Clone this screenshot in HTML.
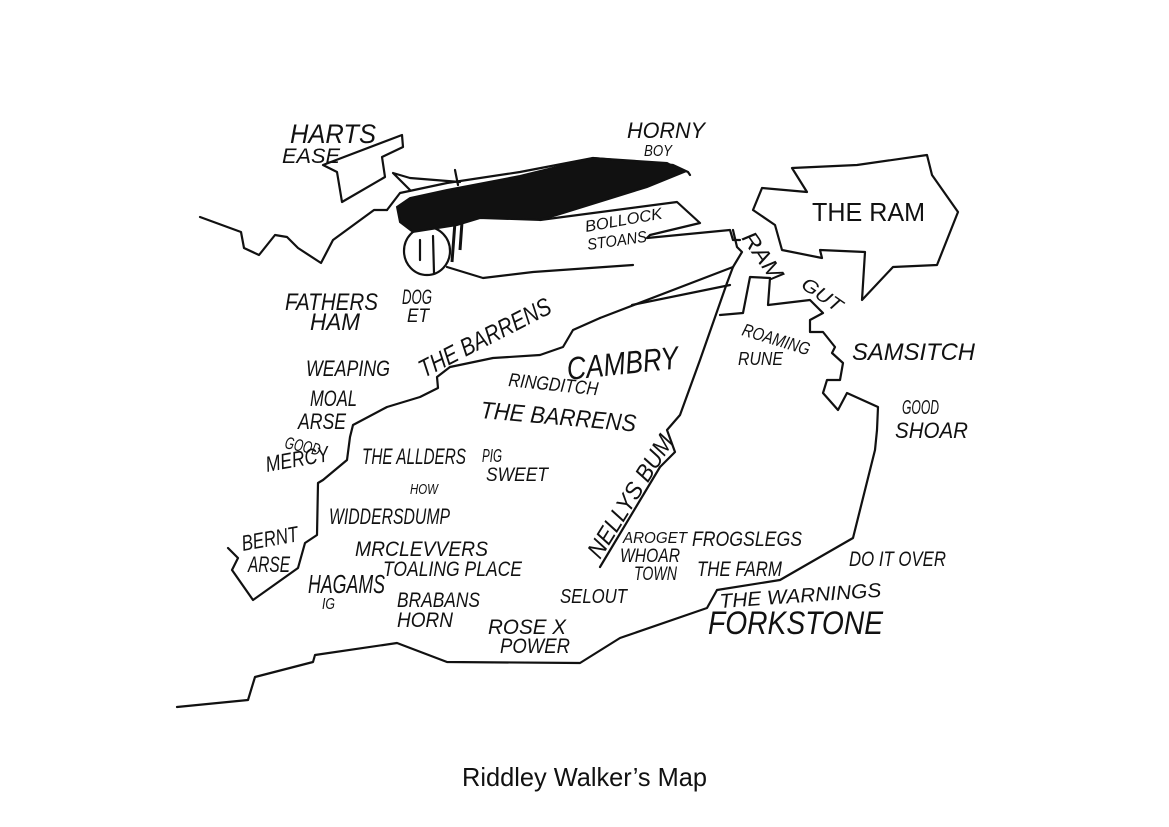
<!DOCTYPE html>
<html><head><meta charset="utf-8"><style>
html,body{margin:0;padding:0;background:#fff;}
svg{display:block}
text{font-family:"Liberation Sans",sans-serif;font-style:italic;fill:#111;}
.c{font-style:normal;}
</style></head><body>
<svg width="1169" height="827" viewBox="0 0 1169 827" xmlns="http://www.w3.org/2000/svg">
<g fill="none" stroke="#111" stroke-width="2.2" stroke-linejoin="round" stroke-linecap="round">
<path d="M323,165 L402,135 L403,147 L382,157 L385,177 L342,202 L337,172 Z"/>
<path d="M200,217 L241,232 L244,248 L259,255 L275,235 L287,237 L298,248 L321,263 L333,240 L374,210 L387,210"/>
<path d="M387,210 L400,193 L447,183 L520,172 L593,158 L673,165 L688,172 L690,175"/>
<path d="M393,173 L410,178 L460,182 M393,173 L410,190 M455,170 L458,185"/>
<ellipse cx="427" cy="251" rx="23" ry="24"/>
<path d="M420,240 L420,260 M433,236 L434,273"/>
<path d="M447,267 L483,278 L533,272 L633,265"/>
<path d="M540,220 L677,202 L700,223 L650,235 L647,238 L730,230 L733,240 L740,240"/>
<path d="M733,230 L737,247 L742,252 L733,267 L727,283"/>
<path d="M733,267 L600,318"/>
<path d="M730,285 L632,305"/>
<path d="M600,318 L573,330 L563,347 L540,355 L493,358 L450,367 L437,377 L438,388 L420,397 L387,407 L353,425 L350,437 L347,460 L323,480 L318,483 L317,535 L305,543 L298,568 L253,600 L232,570 L238,558 L228,548"/>
<path d="M727,283 L700,360 L680,415 L667,430 L675,452 L660,467 L600,567"/>
<path d="M177,707 L248,700 L255,677 L313,662 L315,655 L397,643 L447,662 L580,663 L620,638 L707,608 L717,590 L780,580 L853,538 L875,450 L877,430 L878,407 L847,393 L838,410 L823,393 L827,380 L840,380 L843,363 L832,353 L835,347 L823,332 L810,332 L810,320 L823,313 L810,300 L768,305 L770,278 L750,277 L743,313 L720,315"/>
<path d="M792,168 L857,165 L927,155 L932,175 L958,212 L937,265 L893,267 L862,300 L865,252 L820,250 L822,258 L782,250 L775,225 L753,210 L762,188 L807,192 Z"/>
</g>
<path d="M397,207 L410,198 L447,190 L520,176 L593,158 L667,163 L684,172 L647,187 L560,214 L540,220 L480,218 L457,225 L413,232 L400,222 Z" fill="#111" stroke="#111" stroke-width="2"/>
<path d="M455,222 L452,262 M462,222 L460,250" stroke="#111" stroke-width="3"/>
<g lengthAdjust="spacingAndGlyphs">
<text x="290" y="143" font-size="27" textLength="86" lengthAdjust="spacingAndGlyphs">HARTS</text>
<text x="282" y="163" font-size="21" textLength="58" lengthAdjust="spacingAndGlyphs">EASE</text>
<text x="627" y="138" font-size="22" textLength="78" lengthAdjust="spacingAndGlyphs">HORNY</text>
<text x="644" y="156" font-size="16" textLength="28" lengthAdjust="spacingAndGlyphs">BOY</text>
<text x="812" y="221" font-size="26" class="c" textLength="113" lengthAdjust="spacingAndGlyphs">THE RAM</text>
<text x="586" y="232" font-size="16" textLength="78" lengthAdjust="spacingAndGlyphs" transform="rotate(-10 586 232)">BOLLOCK</text>
<text x="588" y="250" font-size="16" textLength="60" lengthAdjust="spacingAndGlyphs" transform="rotate(-8 588 250)">STOANS</text>
<text x="741" y="238" font-size="22" textLength="55" lengthAdjust="spacingAndGlyphs" transform="rotate(55 741 238)">RAM</text>
<text x="800" y="287" font-size="19" textLength="45" lengthAdjust="spacingAndGlyphs" transform="rotate(35 800 287)">GUT</text>
<text x="285" y="310" font-size="24" textLength="93" lengthAdjust="spacingAndGlyphs">FATHERS</text>
<text x="310" y="330" font-size="24" textLength="50" lengthAdjust="spacingAndGlyphs">HAM</text>
<text x="402" y="304" font-size="21" textLength="30" lengthAdjust="spacingAndGlyphs">DOG</text>
<text x="407" y="322" font-size="19" textLength="22" lengthAdjust="spacingAndGlyphs">ET</text>
<text x="424" y="378" font-size="25" textLength="145" lengthAdjust="spacingAndGlyphs" transform="rotate(-27 424 378)">THE BARRENS</text>
<text x="306" y="376" font-size="22" textLength="84" lengthAdjust="spacingAndGlyphs">WEAPING</text>
<text x="568" y="380" font-size="32" textLength="112" lengthAdjust="spacingAndGlyphs" transform="rotate(-6 568 380)">CAMBRY</text>
<text x="508" y="386" font-size="19" textLength="90" lengthAdjust="spacingAndGlyphs" transform="rotate(6 508 386)">RINGDITCH</text>
<text x="480" y="418" font-size="24" textLength="156" lengthAdjust="spacingAndGlyphs" transform="rotate(5 480 418)">THE BARRENS</text>
<text x="741" y="335" font-size="18" textLength="70" lengthAdjust="spacingAndGlyphs" transform="rotate(17 741 335)">ROAMING</text>
<text x="738" y="365" font-size="18" textLength="45" lengthAdjust="spacingAndGlyphs">RUNE</text>
<text x="852" y="360" font-size="24" textLength="123" lengthAdjust="spacingAndGlyphs">SAMSITCH</text>
<text x="902" y="414" font-size="20" textLength="37" lengthAdjust="spacingAndGlyphs">GOOD</text>
<text x="895" y="438" font-size="22" textLength="73" lengthAdjust="spacingAndGlyphs">SHOAR</text>
<text x="310" y="406" font-size="22" textLength="47" lengthAdjust="spacingAndGlyphs">MOAL</text>
<text x="298" y="429" font-size="22" textLength="48" lengthAdjust="spacingAndGlyphs">ARSE</text>
<text x="284" y="448" font-size="17" textLength="36" lengthAdjust="spacingAndGlyphs" transform="rotate(12 284 448)">GOOD</text>
<text x="267" y="472" font-size="22" textLength="64" lengthAdjust="spacingAndGlyphs" transform="rotate(-10 267 472)">MERCY</text>
<text x="362" y="464" font-size="22" textLength="104" lengthAdjust="spacingAndGlyphs">THE ALLDERS</text>
<text x="482" y="462" font-size="18" textLength="20" lengthAdjust="spacingAndGlyphs">PIG</text>
<text x="486" y="481" font-size="19" textLength="62" lengthAdjust="spacingAndGlyphs">SWEET</text>
<text x="410" y="494" font-size="15" textLength="28" lengthAdjust="spacingAndGlyphs">HOW</text>
<text x="329" y="524" font-size="22" textLength="121" lengthAdjust="spacingAndGlyphs">WIDDERSDUMP</text>
<text x="600" y="560" font-size="24" textLength="140" lengthAdjust="spacingAndGlyphs" transform="rotate(-58 600 560)">NELLYS BUM</text>
<text x="243" y="551" font-size="22" textLength="57" lengthAdjust="spacingAndGlyphs" transform="rotate(-10 243 551)">BERNT</text>
<text x="248" y="572" font-size="22" textLength="42" lengthAdjust="spacingAndGlyphs">ARSE</text>
<text x="355" y="556" font-size="21" textLength="133" lengthAdjust="spacingAndGlyphs">MRCLEVVERS</text>
<text x="383" y="576" font-size="21" textLength="139" lengthAdjust="spacingAndGlyphs">TOALING PLACE</text>
<text x="308" y="593" font-size="26" textLength="77" lengthAdjust="spacingAndGlyphs">HAGAMS</text>
<text x="322" y="609" font-size="16" textLength="13" lengthAdjust="spacingAndGlyphs">IG</text>
<text x="397" y="607" font-size="21" textLength="83" lengthAdjust="spacingAndGlyphs">BRABANS</text>
<text x="397" y="627" font-size="21" textLength="56" lengthAdjust="spacingAndGlyphs">HORN</text>
<text x="488" y="634" font-size="21" textLength="78" lengthAdjust="spacingAndGlyphs">ROSE X</text>
<text x="500" y="653" font-size="21" textLength="70" lengthAdjust="spacingAndGlyphs">POWER</text>
<text x="560" y="603" font-size="20" textLength="67" lengthAdjust="spacingAndGlyphs">SELOUT</text>
<text x="623" y="543" font-size="16" textLength="64" lengthAdjust="spacingAndGlyphs">AROGET</text>
<text x="620" y="562" font-size="19" textLength="60" lengthAdjust="spacingAndGlyphs">WHOAR</text>
<text x="634" y="580" font-size="19" textLength="43" lengthAdjust="spacingAndGlyphs">TOWN</text>
<text x="692" y="546" font-size="21" textLength="110" lengthAdjust="spacingAndGlyphs">FROGSLEGS</text>
<text x="697" y="576" font-size="21" textLength="85" lengthAdjust="spacingAndGlyphs">THE FARM</text>
<text x="849" y="566" font-size="21" textLength="97" lengthAdjust="spacingAndGlyphs">DO IT OVER</text>
<text x="720" y="608" font-size="20" textLength="162" lengthAdjust="spacingAndGlyphs" transform="rotate(-4 720 608)">THE WARNINGS</text>
<text x="708" y="634" font-size="32" textLength="175" lengthAdjust="spacingAndGlyphs">FORKSTONE</text>
</g>
<text x="462" y="786" font-size="26" class="c" textLength="245" lengthAdjust="spacingAndGlyphs">Riddley Walker’s Map</text>
</svg>
</body></html>
